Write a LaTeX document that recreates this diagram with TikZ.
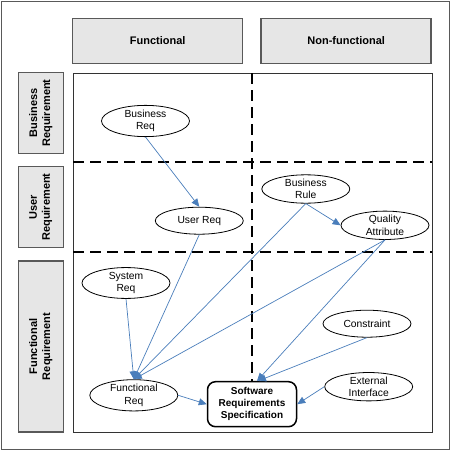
\documentclass[tikz,border=0pt]{standalone}
\usepackage{fontspec}
\setmainfont{Liberation Sans}
\usetikzlibrary{shapes.geometric,arrows.meta}
\definecolor{arblue}{HTML}{4A7EBB}
\definecolor{hdgray}{HTML}{E6E6E6}
\tikzset{
    EL/.style ={ellipse,minimum width = 88pt, minimum height = 27pt, inner sep=0pt, draw, fill=white, line width=0.8pt, align=center, font=\fontsize{10.3}{12.5}\selectfont},
    HD/.style ={rectangle,minimum width = 170pt, minimum height = 45pt, draw=black!65, line width=1.5pt, fill=hdgray, font=\fontsize{11}{13}\selectfont\bfseries},
    SD/.style ={rectangle,minimum height = 45pt, draw=black!65, line width=1.5pt, fill=hdgray, align=center, rotate=90, font=\fontsize{11}{13}\selectfont\bfseries},
    SR/.style ={rectangle,rounded corners=8pt,minimum width = 89pt, minimum height = 45pt, draw, fill=white, line width=1.5pt, align=center, font=\fontsize{10}{12}\selectfont\bfseries},
    AR/.style ={draw=arblue, line width=0.7pt, -{Triangle[length=8pt,width=7pt]}},
    DL/.style ={line width=2pt, dash pattern=on 11pt off 6pt}}
\begin{document}
\begin{tikzpicture}[x=1pt,y=-1pt]
        \useasboundingbox (0,0) rectangle (450,450);
        \draw[black!65,line width=1pt] (1,1) rectangle (449,449);
        % headers
        \node[HD] (fun) at (157.7,40.8) {Functional};
        \node[HD] (nfun) at (346.2,40.8) {Non-functional};
        \node[SD,minimum width=80.6pt] (busr) at (40.8,113) {Business\\Requirement};
        \node[SD,minimum width=80.6pt] (usr) at (40.8,207) {User\\Requirement};
        \node[SD,minimum width=170.7pt] (funr) at (40.8,346.4) {Functional\\Requirement};
        % grid
        \draw[black!80,line width=1pt] (73,73) rectangle (432,432);
        \draw[DL] (251.7,73) -- (251.7,382);
        \draw[DL] (73,162.3) -- (432,162.3);
        \draw[DL] (73,251.7) -- (432,251.7);
        % requirements
        \node[EL] (breq) at (145.5,121) {Business\\Req};
        \node[EL] (ureq) at (199.3,220.7) {User Req};
        \node[EL] (brule) at (305.8,189) {Business\\Rule};
        \node[EL] (qattr) at (385,225.3) {Quality\\Attribute};
        \node[EL] (sreq) at (126,283) {System\\Req};
        \node[EL] (cons) at (367,323.7) {Constraint};
        \node[EL] (extif) at (368.7,386.7) {External\\Interface};
        \node[EL] (freq) at (133.8,395.3) {Functional\\Req};
        \node[SR] (srs) at (252,404.2) {Software\\Requirements\\Specification};
        % arrows
        \draw[AR] (breq.south) -- (ureq.north);
        \draw[AR] (brule.south) -- (qattr.west);
        \draw[AR] (sreq.south) -- (freq.north);
        \draw[AR] (ureq.south) -- (freq.north);
        \draw[AR] (brule.south) -- (freq.north);
        \draw[AR] (qattr.south) -- (freq.north);
        \draw[AR] (qattr.south) -- ([xshift=5pt]srs.north);
        \draw[AR] (cons.south) -- ([xshift=6pt]srs.north);
        \draw[AR] (extif.west) -- (srs.east);
        \draw[AR] (freq.east) -- (srs.west);
    \end{tikzpicture}
\end{document}
